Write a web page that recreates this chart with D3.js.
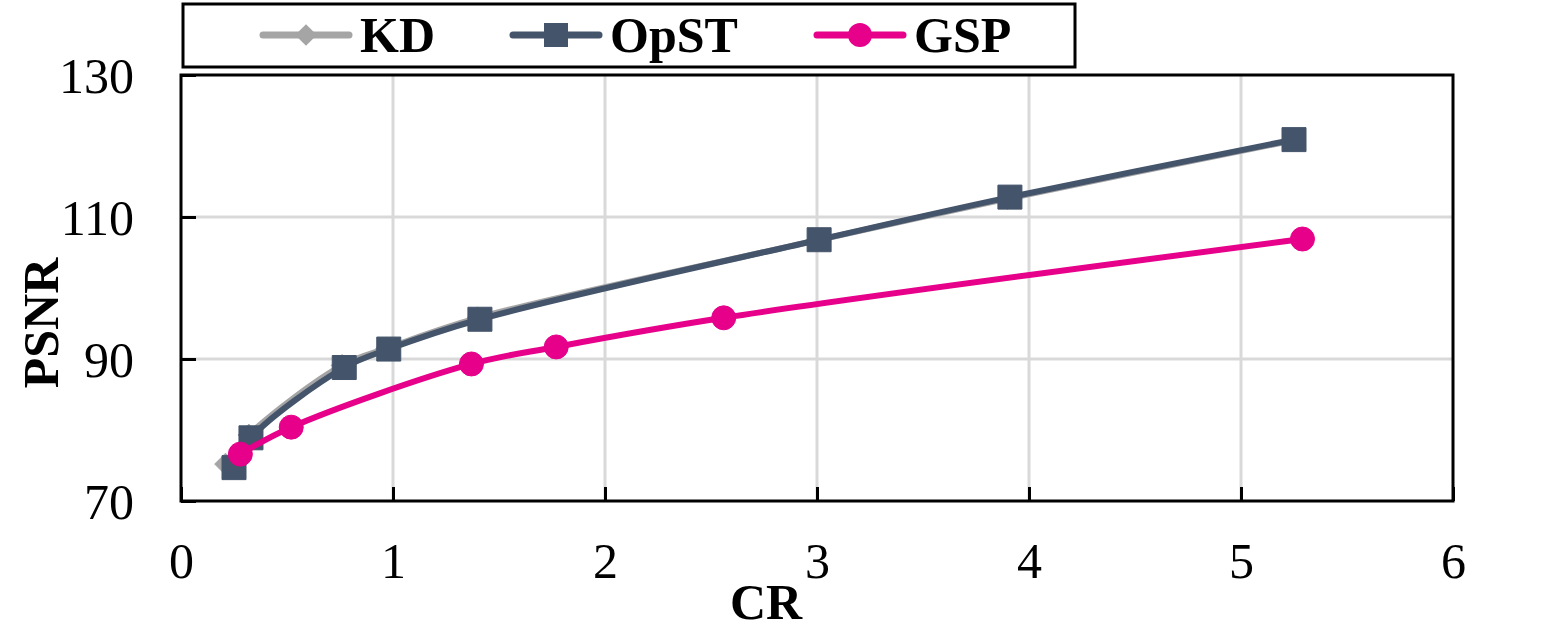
<!DOCTYPE html>
<html>
<head>
<meta charset="utf-8">
<script src="https://cdn.jsdelivr.net/npm/d3@7"></script>
<style>
  html, body { margin: 0; padding: 0; background: #fff; }
  svg { display: block; }
  text { font-family: "Liberation Serif", "Times New Roman", serif; }
</style>
</head>
<body>
<svg id="chart" width="1560" height="636"></svg>
<script>
// values
const kdCR     = [0.21, 0.32, 0.76, 0.97, 1.40, 3.00, 3.90, 5.25];
const kdPSNR   = [75.2, 79.3, 89.1, 91.5, 95.8, 106.7, 112.6, 120.8];
const opstCR   = [0.25, 0.33, 0.77, 0.98, 1.41, 3.01, 3.91, 5.25];
const opstPSNR = [74.7, 78.9, 88.8, 91.4, 95.6, 106.8, 112.8, 120.9];
const gspCR    = [0.28, 0.52, 1.37, 1.77, 2.56, 5.29];
const gspPSNR  = [76.6, 80.4, 89.3, 91.7, 95.8, 106.9];

const xTicks = [0, 1, 2, 3, 4, 5, 6];
const yTicks = [70, 90, 110, 130];

const series = [
  { name: "KD",   cr: kdCR,   psnr: kdPSNR,   color: "#a5a5a5", marker: "diamond" },
  { name: "OpST", cr: opstCR, psnr: opstPSNR, color: "#44546a", marker: "square" },
  { name: "GSP",  cr: gspCR,  psnr: gspPSNR,  color: "#e6008a", marker: "circle" }
];

const svg = d3.select("#chart");
const pLeft = 181, pRight = 1453, pTop = 75, pBottom = 501;

const x = d3.scaleLinear().domain([0, 6]).range([pLeft, pRight]);
const y = d3.scaleLinear().domain([70, 130]).range([pBottom, pTop]);

// grid
svg.append("g")
  .selectAll("line")
  .data(xTicks.slice(1, -1))
  .join("line")
  .attr("x1", d => x(d)).attr("x2", d => x(d))
  .attr("y1", pTop).attr("y2", pBottom)
  .attr("stroke", "#d9d9d9").attr("stroke-width", 3);

svg.append("g")
  .selectAll("line")
  .data(yTicks.slice(1, -1))
  .join("line")
  .attr("x1", pLeft).attr("x2", pRight)
  .attr("y1", d => y(d)).attr("y2", d => y(d))
  .attr("stroke", "#d9d9d9").attr("stroke-width", 3);

// axes, ticks pointing inward
const xAxis = svg.append("g")
  .attr("transform", "translate(0," + pBottom + ")")
  .call(d3.axisBottom(x).tickValues(xTicks).tickFormat(d3.format("d"))
    .tickSizeInner(-14).tickSizeOuter(0).tickPadding(41));
const yAxis = svg.append("g")
  .attr("transform", "translate(" + pLeft + ",0)")
  .call(d3.axisLeft(y).tickValues(yTicks).tickFormat(d3.format("d"))
    .tickSizeInner(-15).tickSizeOuter(0).tickPadding(47));

[xAxis, yAxis].forEach(function(g) {
  g.select(".domain").remove();
  g.selectAll(".tick line").attr("stroke", "#000").attr("stroke-width", 3);
  g.selectAll(".tick text")
    .attr("fill", "#000")
    .style("font-size", "50px")
    .style("font-family", "'Liberation Serif', serif");
});
xAxis.selectAll(".tick text").attr("dy", "0.71em");
yAxis.selectAll(".tick text").attr("dy", "0.34em");

// plot frame
svg.append("rect")
  .attr("x", pLeft).attr("y", pTop)
  .attr("width", pRight - pLeft).attr("height", pBottom - pTop)
  .attr("fill", "none").attr("stroke", "#000").attr("stroke-width", 3);

// axis titles
svg.append("text")
  .attr("x", 766).attr("y", 619)
  .attr("text-anchor", "middle")
  .style("font-size", "50px").style("font-weight", "bold")
  .text("CR");

svg.append("text")
  .attr("transform", "translate(58,323) rotate(-90)")
  .attr("text-anchor", "middle")
  .style("font-size", "50px").style("font-weight", "bold")
  .text("PSNR");

// lines
const line = d3.line()
  .x(d => x(d[0]))
  .y(d => y(d[1]))
  .curve(d3.curveCatmullRom.alpha(0.5));

const sym = {
  diamond: d3.symbol().type(d3.symbolDiamond2).size(300),
  square: d3.symbol().type(d3.symbolSquare).size(576),
  circle: d3.symbol().type(d3.symbolCircle).size(452)
};

series.forEach(function(s) {
  const pts = s.cr.map((c, i) => [c, s.psnr[i]]);
  const g = svg.append("g");
  g.append("path")
    .datum(pts)
    .attr("d", line)
    .attr("fill", "none")
    .attr("stroke", s.color)
    .attr("stroke-width", 6)
    .attr("stroke-linecap", "round");
  g.selectAll("path.m")
    .data(pts)
    .join("path")
    .attr("class", "m")
    .attr("transform", d => "translate(" + x(d[0]) + "," + y(d[1]) + ")")
    .attr("d", sym[s.marker])
    .attr("fill", s.color)
    .attr("stroke", s.color)
    .attr("stroke-width", 1)
    .attr("stroke-linejoin", "round");
});

// legend
svg.append("rect")
  .attr("x", 183).attr("y", 4)
  .attr("width", 892).attr("height", 63)
  .attr("fill", "#fff").attr("stroke", "#000").attr("stroke-width", 3);

const legendX = [260, 510, 814];
series.forEach(function(s, i) {
  const lx = legendX[i], ly = 35;
  svg.append("line")
    .attr("x1", lx + 3).attr("x2", lx + 89)
    .attr("y1", ly).attr("y2", ly)
    .attr("stroke", s.color).attr("stroke-width", 7)
    .attr("stroke-linecap", "round");
  svg.append("path")
    .attr("transform", "translate(" + (lx + 46) + "," + ly + ")")
    .attr("d", sym[s.marker])
    .attr("fill", s.color);
  svg.append("text")
    .attr("x", lx + 100).attr("y", ly + 17)
    .style("font-size", "50px").style("font-weight", "bold")
    .text(s.name);
});
</script>
</body>
</html>
